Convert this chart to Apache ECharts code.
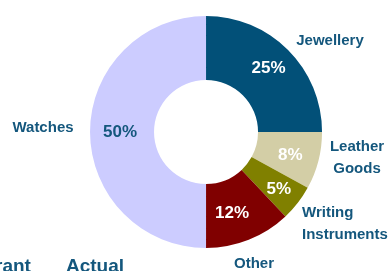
<!DOCTYPE html>
<html>
<head>
<meta charset="utf-8">
<script src="https://cdn.jsdelivr.net/npm/echarts@6/dist/echarts.min.js"></script>
<style>html,body{margin:0;padding:0;background:#fff;}#c{width:388px;height:271px;}</style>
</head>
<body>
<div id="c"></div>
<script>
const categories = ['Jewellery', 'Leather\nGoods', 'Writing\nInstruments', 'Other', 'Watches'];
const shares = [25, 8, 5, 12, 50];
const sliceColors = ['#025078', '#D3CEA6', '#808000', '#800000', '#CCCCFF'];
const pctColors = ['#ffffff', '#ffffff', '#ffffff', '#ffffff', '#14577D'];
const footerTexts = ['rant', 'Actual'];

const FONT = "'Liberation Sans', Arial, sans-serif";
const TEXT = '#14577D';
// label anchors for category names: [x, y, align]
const nameAnchors = [[330, 41, 'center'], [357, 158, 'center'], [302, 224, 'left'], [254, 264, 'center'], [43, 128, 'center']];
// small nudges for the percentage labels: [dx, dy]
const pctNudges = [[1, -2], [0, 2], [4, 4], [-6, 0], [1, 0]];

const chart = echarts.init(document.getElementById('c'), null, {renderer: 'canvas'});
const data = categories.map((c, i) => ({
  name: c, value: shares[i],
  itemStyle: {color: sliceColors[i]},
  label: {color: pctColors[i]}
}));
const center = ['53.1%', '48.7%'];
const radius = [52, 116];
chart.setOption({
  animation: false,
  series: [
    {
      type: 'pie', center, radius, startAngle: 90, clockwise: true,
      silent: true,
      data,
      label: {show: true, position: 'inside', formatter: '{c}%', fontFamily: FONT, fontWeight: 'bold', fontSize: 17},
      labelLine: {show: false},
      labelLayout: (p) => ({dx: pctNudges[p.dataIndex][0], dy: pctNudges[p.dataIndex][1]})
    },
    {
      type: 'pie', center, radius, startAngle: 90, clockwise: true,
      silent: true,
      data: categories.map((c, i) => ({name: c, value: shares[i]})),
      itemStyle: {color: 'rgba(0,0,0,0)'},
      label: {show: true, position: 'outside', alignTo: 'none', overflow: 'none', formatter: '{b}', color: TEXT, opacity: 1, fontFamily: FONT, fontWeight: 'bold', fontSize: 15, lineHeight: 22},
      labelLine: {show: false},
      avoidLabelOverlap: false,
      labelLayout: (p) => ({
        x: nameAnchors[p.dataIndex][0], y: nameAnchors[p.dataIndex][1],
        align: nameAnchors[p.dataIndex][2], verticalAlign: 'middle'
      })
    }
  ],
  graphic: [
    {type: 'text', left: -5, top: 257, style: {text: footerTexts[0], fill: TEXT, font: 'bold 19px ' + FONT}},
    {type: 'text', left: 66, top: 257, style: {text: footerTexts[1], fill: TEXT, font: 'bold 19px ' + FONT}}
  ]
});
</script>
</body>
</html>
